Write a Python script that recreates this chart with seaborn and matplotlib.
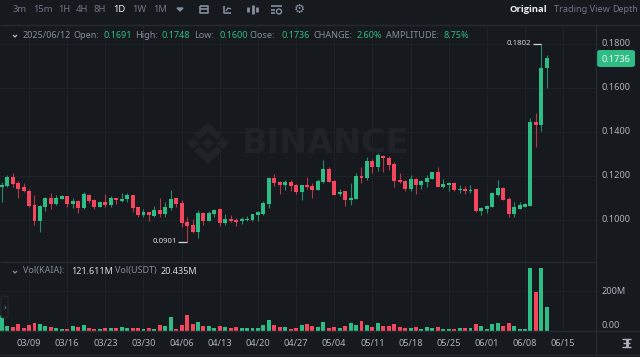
import matplotlib
matplotlib.use('Agg')
import matplotlib.pyplot as plt
from matplotlib.patches import FancyBboxPatch, Circle
from matplotlib.lines import Line2D
import seaborn as sns
import pandas as pd

opens = [.1148,.1154,.1194,.1168,.1148,.1132,.1070,.0997,.1057,.1100,
         .1073,.1097,.1107,.1073,.1086,.1053,.1115,.1089,.1059,.1080,
         .1068,.1098,.1088,.1095,.1113,.1057,.1021,.1035,.1020,.1044,
         .1026,.1053,.1098,.1077,.0989,.0977,.0944,.1033,.0995,.1027,
         .1048,.0986,.1004,.1001,.0994,.1000,.1001,.1023,.1026,.1073,
         .1191,.1173,.1159,.1173,.1157,.1129,.1159,.1154,.1138,.1174,
         .1233,.1177,.1117,.1130,.1092,.1095,.1200,.1191,.1268,.1239,
         .1292,.1283,.1254,.1182,.1177,.1139,.1188,.1161,.1173,.1188,
         .1218,.1150,.1161,.1167,.1136,.1141,.1132,.1139,.1042,.1049,
         .1061,.1114,.1146,.1097,.1027,.1052,.1061,.1064,.1445,.1430,
         .1691]
highs = [.1173,.1203,.1212,.1176,.1170,.1139,.1113,.1068,.1106,.1121,
         .1113,.1112,.1107,.1101,.1091,.1127,.1119,.1094,.1083,.1118,
         .1109,.1098,.1121,.1124,.1113,.1060,.1048,.1035,.1063,.1098,
         .1080,.1136,.1101,.1091,.1015,.1004,.1045,.1036,.1042,.1051,
         .1056,.1027,.1023,.1007,.1015,.1020,.1029,.1042,.1088,.1192,
         .1210,.1179,.1182,.1182,.1162,.1159,.1197,.1168,.1188,.1273,
         .1239,.1182,.1139,.1133,.1167,.1215,.1242,.1285,.1277,.1303,
         .1295,.1291,.1264,.1212,.1182,.1204,.1191,.1182,.1204,.1220,
         .1239,.1185,.1167,.1173,.1159,.1154,.1157,.1139,.1058,.1068,
         .1129,.1182,.1150,.1103,.1080,.1083,.1079,.1465,.1488,.1802,
         .1748]
lows = [.1083,.1151,.1151,.1100,.1129,.1060,.0977,.0947,.1039,.1048,
        .1068,.1094,.1060,.1053,.1030,.1050,.1079,.1051,.1057,.1060,
        .1060,.1071,.1083,.1082,.1038,.1013,.1015,.0997,.1015,.1015,
        .1015,.1045,.1057,.0966,.0901,.0939,.0918,.0979,.0994,.1012,
        .0974,.0977,.0989,.0973,.0982,.0995,.0995,.0997,.1024,.1053,
        .1154,.1116,.1136,.1133,.1116,.1091,.1139,.1100,.1135,.1170,
        .1171,.1114,.1109,.1064,.1068,.1094,.1170,.1182,.1215,.1224,
        .1220,.1227,.1148,.1170,.1130,.1133,.1118,.1142,.1151,.1185,
        .1148,.1147,.1133,.1132,.1121,.1118,.1121,.1036,.1023,.1030,
        .1058,.1109,.1089,.1014,.1012,.1049,.1058,.1062,.1333,.1405,
        .1600]
closes = [.1160,.1194,.1163,.1142,.1130,.1063,.0997,.1063,.1101,.1073,
          .1101,.1107,.1073,.1088,.1053,.1116,.1088,.1057,.1080,.1070,
          .1098,.1089,.1097,.1115,.1054,.1023,.1035,.1021,.1044,.1027,
          .1059,.1095,.1074,.0985,.0973,.0944,.1033,.0995,.1032,.1047,
          .0986,.1004,.0994,.0992,.1006,.1006,.1026,.1035,.1076,.1191,
          .1166,.1160,.1171,.1153,.1127,.1157,.1148,.1138,.1179,.1232,
          .1173,.1115,.1129,.1092,.1100,.1200,.1191,.1268,.1241,.1295,
          .1280,.1250,.1179,.1174,.1139,.1186,.1161,.1179,.1191,.1218,
          .1150,.1164,.1167,.1135,.1142,.1133,.1136,.1042,.1055,.1065,
          .1121,.1146,.1091,.1027,.1058,.1068,.1071,.1444,.1430,.1691,
          .1736]
volumes = [79,25,22,34,14,29,41,37,25,22,
           15,8,12,27,19,29,14,12,8,15,
           14,14,19,15,17,17,10,15,12,32,
           25,71,12,30,83,35,45,27,24,15,
           24,22,15,19,15,15,14,14,32,54,
           30,19,19,12,17,29,34,24,19,44,
           14,19,15,27,42,30,52,30,22,39,
           27,24,37,19,17,17,19,12,22,14,
           22,8,8,12,17,15,15,35,24,12,
           35,39,25,39,25,12,12,317,196,317,
           122]

price_ticks = [0.10, 0.12, 0.14, 0.16]
date_labels = ['03/09','03/16','03/23','03/30','04/06','04/13','04/20','04/27',
               '05/04','05/11','05/18','05/25','06/01','06/08','06/15']
date_days = [5,12,19,26,33,40,47,54,61,68,75,82,89,96,103]

BG = '#16191e'
GRID = '#1e2227'
LINE = '#262a30'
GREEN = '#2ebd85'
RED = '#f6465d'
GREY = '#848e9c'
LIGHT = '#aeb4bc'
WATERMARK = '#1f2227'
W = 640
H = 357


def px_box(x0, y0, x1, y1):
    return [x0 / W, 1 - y1 / H, (x1 - x0) / W, (y1 - y0) / H]


def run():
    sns.set_theme(style='dark', rc={'axes.facecolor': BG, 'figure.facecolor': BG})
    plt.rcParams['font.family'] = ['Noto Sans', 'DejaVu Sans']

    df = pd.DataFrame({'day': range(len(opens)), 'open': opens, 'high': highs,
                       'low': lows, 'close': closes, 'vol': volumes})
    df['up'] = df['close'] >= df['open']
    df['bottom'] = df[['open', 'close']].min(axis=1)
    df['body'] = (df['close'] - df['open']).abs()

    fig = plt.figure(figsize=(6.4, 3.57), dpi=100)
    ax = fig.add_axes(px_box(0, 26, 596, 262))
    vax = fig.add_axes(px_box(0, 262, 596, 331))

    def txt(x, y, s, color=GREY, size=6.6, ha='left', weight='normal', **kw):
        return fig.text(x / W, 1 - y / H, s, color=color, fontsize=size, ha=ha,
                        va='center', fontweight=weight, **kw)

    def seg(xs, ys, color=GREY, lw=1.0):
        fig.add_artist(Line2D([x / W for x in xs], [1 - y / H for y in ys],
                              color=color, lw=lw, solid_capstyle='butt'))

    # velas
    for up, color in [(True, GREEN), (False, RED)]:
        sub = df[df['up'] == up]
        ax.vlines(sub['day'], sub['low'], sub['high'], color=color, lw=0.8, alpha=0.7, zorder=2)
        sns.barplot(data=sub, x='day', y='body', bottom=sub['bottom'].values, native_scale=True,
                    color=color, saturation=1, width=0.72, ax=ax, zorder=3, linewidth=0)

    # volumen
    sns.barplot(data=df, x='day', y='vol', hue='up', palette={True: GREEN, False: RED},
                native_scale=True, dodge=False, saturation=1, width=0.72, legend=False,
                ax=vax, zorder=3, linewidth=0)

    xlim = (-0.33, 109.03)
    ax.set_xlim(xlim)
    ax.set_ylim(0.18 - 218 / 2200, 0.18 + 18 / 2200)
    vax.set_xlim(xlim)
    vax.set_ylim(0, 349)

    for a in (ax, vax):
        a.set_xlabel('')
        a.set_ylabel('')
        a.set_xticks(date_days)
        a.set_xticklabels([])
        a.tick_params(length=0, labelleft=False, labelbottom=False)
        a.grid(True, axis='both', color=GRID, lw=0.8)
        a.set_axisbelow(True)
        for s in a.spines.values():
            s.set_visible(False)
    ax.set_yticks(price_ticks + [0.18])
    vax.set_yticks([200])

    # etiquetas maximo y minimo
    hi = df['high'].idxmax()
    lo = df['low'].idxmin()
    ax.hlines(df['high'][hi], hi - 1.6, hi, color='#d5d8dc', lw=0.9, zorder=4)
    ax.hlines(df['low'][lo], lo - 1.6, lo, color='#d5d8dc', lw=0.9, zorder=4)
    ax.text(hi - 1.9, df['high'][hi], f"{df['high'][hi]:.4f}", color='#d5d8dc', fontsize=5.6,
            ha='right', va='center', zorder=4)
    ax.text(lo - 1.9, df['low'][lo], f"{df['low'][lo]:.4f}", color='#d5d8dc', fontsize=5.6,
            ha='right', va='center', zorder=4)

    # marca de agua
    ax.text(242 / W, 1 - 143.5 / H, 'BINANCE', color=WATERMARK, fontsize=24, fontweight='bold',
            family='DejaVu Sans', ha='left', va='center', transform=fig.transFigure, zorder=1)
    cx, cy = 208, 143
    for pts in ([(-21, 0), (-15, 6), (-9, 0), (-15, -6)],
                [(21, 0), (15, 6), (9, 0), (15, -6)],
                [(-6, 0), (0, -6), (6, 0), (0, 6)],
                [(0, -21), (14, -8), (9, -3), (0, -11), (-9, -3), (-14, -8)],
                [(0, 21), (14, 8), (9, 3), (0, 11), (-9, 3), (-14, 8)]):
        ax.fill([(cx + p[0]) / W for p in pts], [1 - (cy + p[1]) / H for p in pts], color=WATERMARK,
                lw=0, transform=fig.transFigure, zorder=1)
    ax.set_xlim(xlim)
    ax.set_ylim(0.18 - 218 / 2200, 0.18 + 18 / 2200)

    # separadores
    seg([0, 640], [25, 25], LINE)
    seg([0, 596], [262, 262], LINE)
    seg([0, 640], [331, 331], LINE)
    seg([0, 640], [355, 355], LINE)
    seg([596, 596], [25, 355], LINE)

    # barra superior
    for x, s in [(13, '3m'), (33, '15m'), (58, '1H'), (76, '4H'), (94, '8H'), (132, '1W'), (153, '1M')]:
        txt(x, 9, s, color='#6f7783', size=6.8)
    txt(113, 9, '1D', color='#eaecef', size=6.8, weight='bold')
    fig.add_artist(plt.Polygon([(177 / W, 1 - 8 / H), (183 / W, 1 - 8 / H), (180 / W, 1 - 11 / H)],
                               color='#848e9c', transform=fig.transFigure))
    # iconos
    seg([200, 208, 208, 200, 200], [6, 6, 13, 13, 6], '#848e9c', 1.2)
    seg([200, 208], [9, 9], '#848e9c', 1.2)
    seg([224, 224, 231], [6, 13, 13], '#848e9c', 1.2)
    seg([226, 228, 231], [11, 8, 9], '#848e9c', 1.0)
    for x, y0, y1 in [(248, 7, 12), (253, 5, 14), (257, 7, 12)]:
        seg([x, x], [y0, y1], '#848e9c', 2.0)
    seg([271, 282], [6, 6], '#848e9c', 1.2)
    seg([271, 275], [10, 10], '#848e9c', 1.2)
    seg([271, 275], [13, 13], '#848e9c', 1.2)
    fig.add_artist(Circle((279 / W * 6.4, (1 - 11.5 / H) * 3.57), 0.025, fill=False, ec='#848e9c', lw=1.0,
                          transform=fig.dpi_scale_trans))
    txt(299, 9, '\u2699', color='#848e9c', size=9, ha='center', family='DejaVu Sans')

    txt(510, 9, 'Original', color='#eaecef', size=6.8, weight='bold', family='Open Sans')
    txt(554, 9, 'Trading View', color='#6f7783', size=6.6)
    txt(638, 9, 'Depth', color='#6f7783', size=6.4, ha='right')

    # fila de datos
    seg([13, 15, 17], [35, 37, 35], '#b7bdc6', 0.9)
    header = [(23, '2025/06/12', GREY), (73, 'Open:', GREY), (103, '0.1691', GREEN),
              (135, 'High:', GREY), (162, '0.1748', GREEN), (194, 'Low:', GREY),
              (219, '0.1600', GREEN), (250, 'Close:', GREY), (281, '0.1736', GREEN),
              (313, 'CHANGE:', GREY), (357, '2.60%', GREEN), (386, 'AMPLITUDE:', GREY),
              (444, '8.75%', GREEN)]
    for x, s, c in header:
        txt(x, 36, s, color=c, size=6.5)

    # fila volumen
    seg([13, 15, 17], [271, 273, 271], '#848e9c', 0.9)
    txt(23, 271, 'Vol(KAIA):', size=6.5)
    txt(71, 271, '121.611M', color='#d5d8dc', size=6.5)
    txt(115, 271, 'Vol(USDT)', size=6.5)
    txt(161, 271, '20.435M', color='#d5d8dc', size=6.5)
    fig.add_artist(FancyBboxPatch((1 / W, 1 - 318 / H), 7 / W, 22 / H, boxstyle='round,pad=0,rounding_size=0.006',
                                  fc=BG, ec=LINE, lw=0.8, transform=fig.transFigure))
    txt(5, 307, '\u203a', size=6, ha='center')

    # eje derecho
    for p in [0.18] + price_ticks:
        txt(602, 44 + (0.18 - p) * 2200, f'{p:.4f}', color=LIGHT, size=6.6)
    fig.add_artist(FancyBboxPatch((597 / W, 1 - 67 / H), 38 / W, 17 / H, boxstyle='round,pad=0,rounding_size=0.006',
                                  fc=GREEN, ec='none', transform=fig.transFigure))
    txt(602, 59, f'{closes[-1]:.4f}', color='#f2f4f5', size=6.6, weight='bold')
    txt(602, 291, '200M', color=LIGHT, size=6.6)
    txt(602, 326, '0.00', color=LIGHT, size=6.6)

    # fechas
    for d, s in zip(date_days, date_labels):
        txt(1.8 + d * 5.45, 343, s, color=LIGHT, size=6.6, ha='center')

    # icono ajuste
    seg([622, 631], [339, 339], LIGHT, 1.0)
    seg([622, 631], [347, 347], LIGHT, 1.0)
    seg([626.5, 626.5], [339, 347], LIGHT, 2.0)
    seg([623, 630], [343, 343], LIGHT, 1.0)

    fig.savefig('out.png', dpi=100, facecolor=BG)


if __name__ == '__main__':
    run()
